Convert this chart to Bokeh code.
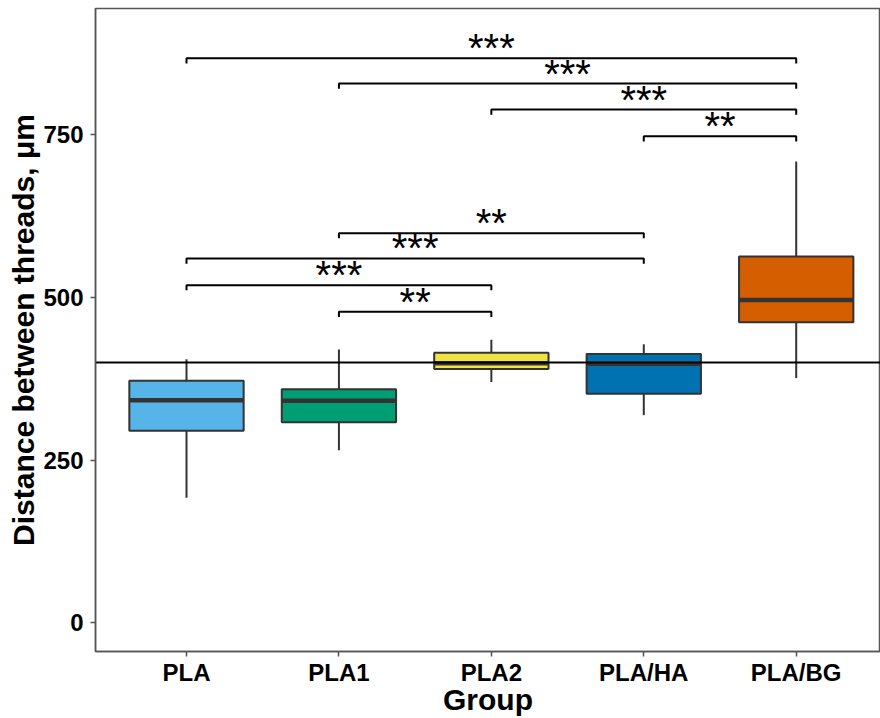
from bokeh.plotting import figure
from bokeh.models import Range1d, FixedTicker, ColumnDataSource
from bokeh.core.properties import value
from bokeh.embed import file_html
from bokeh.resources import INLINE

# ---- data ----
groups = ["PLA", "PLA1", "PLA2", "PLA/HA", "PLA/BG"]
colors = ["#56B4E9", "#009E73", "#F0E442", "#0072B2", "#D55E00"]
whisker_low = [192, 265, 370, 319, 376]
q1 = [295, 308, 390, 352, 462]
median = [342, 341, 399, 398, 496]
q3 = [372, 359, 415, 413, 563]
whisker_high = [405, 420, 435, 428, 709]
reference_line = 400

br_start = [1, 2, 3, 4, 2, 1, 1, 2]
br_end = [5, 5, 5, 5, 4, 4, 3, 3]
br_y = [868, 829, 789, 748, 599, 560, 519, 478]
br_label = ["***", "***", "***", "**", "**", "***", "***", "**"]

y_ticks = [0, 250, 500, 750]

FONT = "Liberation Sans"
box_w = 0.75
tip = 8
X0, X1 = 0.403, 5.553
Y0, Y1 = -44.5, 944.5

xpos = list(range(1, len(groups) + 1))

p = figure(width=880, height=718, output_backend="svg", toolbar_location=None,
           x_range=Range1d(X0, X1), y_range=Range1d(Y0, Y1),
           min_border_left=95, min_border_right=0, min_border_top=8,
           min_border_bottom=67)
p.background_fill_color = "white"
p.border_fill_color = "white"
p.xgrid.visible = False
p.ygrid.visible = False
p.outline_line_color = "#555555"
p.outline_line_width = 1.5

src = ColumnDataSource(dict(x=xpos, lo=whisker_low, q1=q1, med=median, q3=q3,
                            hi=whisker_high, color=colors,
                            left=[x - box_w / 2 for x in xpos],
                            right=[x + box_w / 2 for x in xpos]))

# whiskers
p.segment(x0="x", y0="q3", x1="x", y1="hi", source=src, line_color="#333333", line_width=2)
p.segment(x0="x", y0="lo", x1="x", y1="q1", source=src, line_color="#333333", line_width=2)
# boxes
p.quad(left="left", right="right", bottom="q1", top="q3", source=src,
       fill_color="color", line_color="#333333", line_width=2)
# medians
p.segment(x0="left", y0="med", x1="right", y1="med", source=src,
          line_color="#333333", line_width=4.5)

# reference line
p.segment(x0=[X0], y0=[reference_line], x1=[X1], y1=[reference_line],
          line_color="black", line_width=2)

# significance brackets
xs, ys = [], []
for s, e, y in zip(br_start, br_end, br_y):
    xs.append([s, s, e, e])
    ys.append([y - tip, y, y, y - tip])
p.multi_line(xs=xs, ys=ys, line_color="black", line_width=2)
p.text(x=[(s + e) / 2 for s, e in zip(br_start, br_end)], y=br_y, text=br_label,
       text_align="center", text_baseline="alphabetic", y_offset=-10,
       text_font=value(FONT), text_font_size="40px", text_color="black")

# axes
p.xaxis.ticker = FixedTicker(ticks=xpos)
p.xaxis.major_label_overrides = {x: g for x, g in zip(xpos, groups)}
p.yaxis.ticker = FixedTicker(ticks=y_ticks)
for ax in (p.below[0], p.left[0]):
    ax.axis_line_color = "#555555"
    ax.axis_line_width = 1.5
    ax.major_tick_line_color = "#555555"
    ax.major_tick_line_width = 1.5
    ax.major_tick_in = 0
    ax.major_tick_out = 5
    ax.minor_tick_line_color = None
    ax.major_label_text_font = FONT
    ax.major_label_text_font_style = "bold"
    ax.major_label_text_font_size = "24px"
    ax.major_label_text_color = "black"
    ax.axis_label_text_font = FONT
    ax.axis_label_text_font_style = "bold"
    ax.axis_label_text_font_size = "30px"
    ax.axis_label_text_color = "black"
p.below[0].axis_label = "Group"
p.left[0].axis_label = "Distance between threads, μm"
p.below[0].major_label_standoff = 2
p.below[0].axis_label_standoff = -6
p.left[0].major_label_standoff = 7
p.left[0].axis_label_standoff = 0

open("out.html", "w").write(file_html(p, INLINE))
